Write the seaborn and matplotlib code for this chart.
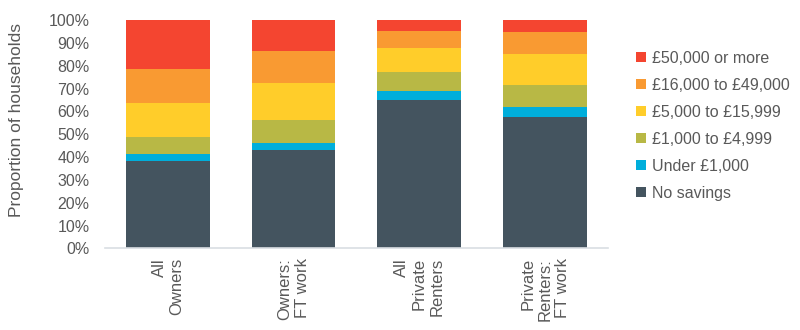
import matplotlib
matplotlib.use("Agg")
import matplotlib.pyplot as plt
import seaborn as sns
import pandas as pd
import numpy as np
from matplotlib.patches import Patch

groups = ["All\nOwners", "Owners:\nFT work", "All\nPrivate\nRenters", "Private\nRenters:\nFT work"]
categories = ["No savings", "Under £1,000", "£1,000 to £4,999", "£5,000 to £15,999",
              "£16,000 to £49,000", "£50,000 or more"]
no_savings = [38.3, 43.1, 65.1, 57.7]
under_1k = [3.1, 3.2, 3.8, 4.4]
k1_to_5 = [7.5, 10.1, 8.3, 9.6]
k5_to_16 = [14.8, 16.2, 10.7, 13.6]
k16_to_49 = [14.9, 13.8, 7.4, 9.6]
k50_plus = [21.4, 13.6, 4.7, 5.1]
colors = ["#44545F", "#00AEDB", "#B8B845", "#FFCD2A", "#F99A32", "#F44530"]

series = [no_savings, under_1k, k1_to_5, k5_to_16, k16_to_49, k50_plus]
cum = np.cumsum(np.array(series), axis=0)

sns.set_theme(style="white")
plt.rcParams['font.family'] = ['Liberation Sans', 'DejaVu Sans']

fig = plt.figure(figsize=(8, 3.3), dpi=100)
ax = fig.add_axes([0.131, 0.247, 0.629, 0.692])

for i in range(len(categories) - 1, -1, -1):
    df = pd.DataFrame({"group": groups, "value": cum[i]})
    sns.barplot(data=df, x="group", y="value", color=colors[i], ax=ax,
                width=0.667, saturation=1, edgecolor="none", linewidth=0)

ax.set_xlim(-0.5, 3.5)
ax.set_ylim(0, 100)
ax.set_yticks(np.arange(0, 101, 10))
ax.set_yticklabels([f"{v}%" for v in range(0, 101, 10)], color="#595959", fontsize=11.5)
ax.tick_params(axis="y", length=0, pad=11)
ax.tick_params(axis="x", length=0, pad=7)
ax.set_xticks(range(len(groups)))
ax.set_xticklabels(groups, rotation=90, ha="center", va="top", multialignment="right",
                   color="#595959", fontsize=12, linespacing=1.2)
ax.set_xlabel("")
ax.set_ylabel("Proportion of households", color="#595959", fontsize=12.5)
ax.yaxis.set_label_coords(-0.161, 0.562)
for s in ["top", "right", "left"]:
    ax.spines[s].set_visible(False)
ax.spines["bottom"].set_color("#D9DEE3")
ax.spines["bottom"].set_linewidth(1.2)

handles = [Patch(facecolor=colors[i], edgecolor="none", label=categories[i])
           for i in range(len(categories) - 1, -1, -1)]
fig.legend(handles=handles, loc="upper left", bbox_to_anchor=(0.7775, 0.89), frameon=False,
           fontsize=11.5, handlelength=0.6, handleheight=0.6, handletextpad=0.4,
           labelspacing=0.75, labelcolor="#595959")

fig.savefig("out.png", dpi=100)
